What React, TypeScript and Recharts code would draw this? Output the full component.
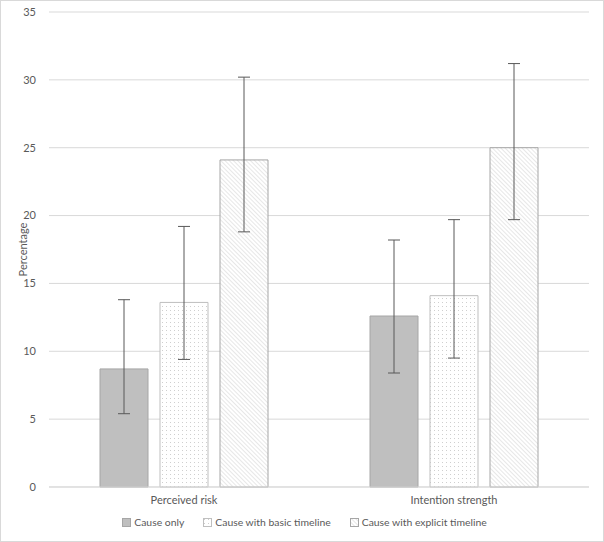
import React from 'react'
import { BarChart, Bar, CartesianGrid, ErrorBar, Legend, XAxis, YAxis } from 'recharts'

const categories = ['Perceived risk', 'Intention strength']
const causeOnly = [8.7, 12.6]
const basicTimeline = [13.6, 14.1]
const explicitTimeline = [24.1, 25.0]
// error bar ends (low, high)
const causeOnlyLow = [5.4, 8.4]
const causeOnlyHigh = [13.8, 18.2]
const basicLow = [9.4, 9.5]
const basicHigh = [19.2, 19.7]
const explicitLow = [18.8, 19.7]
const explicitHigh = [30.2, 31.2]
const yTicks = [0, 5, 10, 15, 20, 25, 30, 35]

const data = categories.map((name, i) => ({
  name,
  causeOnly: causeOnly[i],
  basic: basicTimeline[i],
  explicit: explicitTimeline[i],
  causeOnlyErr: [causeOnly[i] - causeOnlyLow[i], causeOnlyHigh[i] - causeOnly[i]],
  basicErr: [basicTimeline[i] - basicLow[i], basicHigh[i] - basicTimeline[i]],
  explicitErr: [explicitTimeline[i] - explicitLow[i], explicitHigh[i] - explicitTimeline[i]],
}))

const font = 'Lato, "Open Sans", sans-serif'
const textColor = '#595959'
const fontSize = 11

const legendItems = [
  { label: 'Cause only', fill: '#bfbfbf', stroke: '#a6a6a6' },
  { label: 'Cause with basic timeline', fill: 'url(#dots)', stroke: '#bfbfbf' },
  { label: 'Cause with explicit timeline', fill: 'url(#hatch)', stroke: '#a6a6a6' },
]

function LegendContent() {
  return (
    <div
      style={{
        display: 'flex',
        justifyContent: 'center',
        gap: 19,
        fontFamily: font,
        fontSize: 10.4,
        color: textColor,
        paddingTop: 4,
        paddingLeft: 18,
        height: 26,
        position: 'relative',
        top: -6,
      }}
    >
      {legendItems.map((it) => (
        <div key={it.label} style={{ display: 'flex', alignItems: 'center', gap: 3 }}>
          <svg width={9} height={9}>
            <rect x={0.5} y={0.5} width={8} height={8} fill={it.fill} stroke={it.stroke} />
          </svg>
          <span>{it.label}</span>
        </div>
      ))}
    </div>
  )
}

export default function App() {
  return (
    <div
      style={{
        position: 'fixed',
        left: 0,
        top: 0,
        width: 604,
        height: 542,
        boxSizing: 'border-box',
        border: '1px solid #d9d9d9',
        background: '#fff',
      }}
    >
      <BarChart
        width={602}
        height={540}
        data={data}
        margin={{ top: 11, right: 14, left: 1, bottom: 0 }}
        barSize={48}
        barGap={12}
      >
        <defs>
          <pattern id="dots" width={4} height={4} patternUnits="userSpaceOnUse">
            <rect width={4} height={4} fill="#fff" />
            <rect x={1} y={1} width={1} height={1} fill="#cfcfcf" />
          </pattern>
          <pattern id="hatch" width={3} height={3} patternUnits="userSpaceOnUse" patternTransform="rotate(-45)">
            <rect width={3} height={3} fill="#fff" />
            <line x1={0} y1={0} x2={0} y2={3} stroke="#cfcfcf" strokeWidth={1} />
          </pattern>
        </defs>
        <CartesianGrid vertical={false} stroke="#d9d9d9" />
        <XAxis
          dataKey="name"
          height={24}
          axisLine={{ stroke: '#d9d9d9' }}
          tickLine={false}
          tick={{ fill: textColor, fontSize, fontFamily: font }}
          tickMargin={3}
        />
        <YAxis
          width={47}
          domain={[0, 35]}
          ticks={yTicks}
          axisLine={false}
          tickLine={false}
          tick={{ fill: textColor, fontSize, fontFamily: font }}
          tickMargin={7}
          label={{
            value: 'Percentage',
            angle: -90,
            position: 'insideLeft',
            offset: 21,
            style: { fill: textColor, fontSize, fontFamily: font, textAnchor: 'middle' },
          }}
        />
        <Legend verticalAlign="bottom" content={<LegendContent />} />
        <Bar dataKey="causeOnly" fill="#bfbfbf" stroke="#a6a6a6" isAnimationActive={false}>
          <ErrorBar dataKey="causeOnlyErr" width={6} stroke="#595959" strokeWidth={1} direction="y" />
        </Bar>
        <Bar dataKey="basic" fill="url(#dots)" stroke="#bfbfbf" isAnimationActive={false}>
          <ErrorBar dataKey="basicErr" width={6} stroke="#595959" strokeWidth={1} direction="y" />
        </Bar>
        <Bar dataKey="explicit" fill="url(#hatch)" stroke="#a6a6a6" isAnimationActive={false}>
          <ErrorBar dataKey="explicitErr" width={6} stroke="#595959" strokeWidth={1} direction="y" />
        </Bar>
      </BarChart>
    </div>
  )
}
